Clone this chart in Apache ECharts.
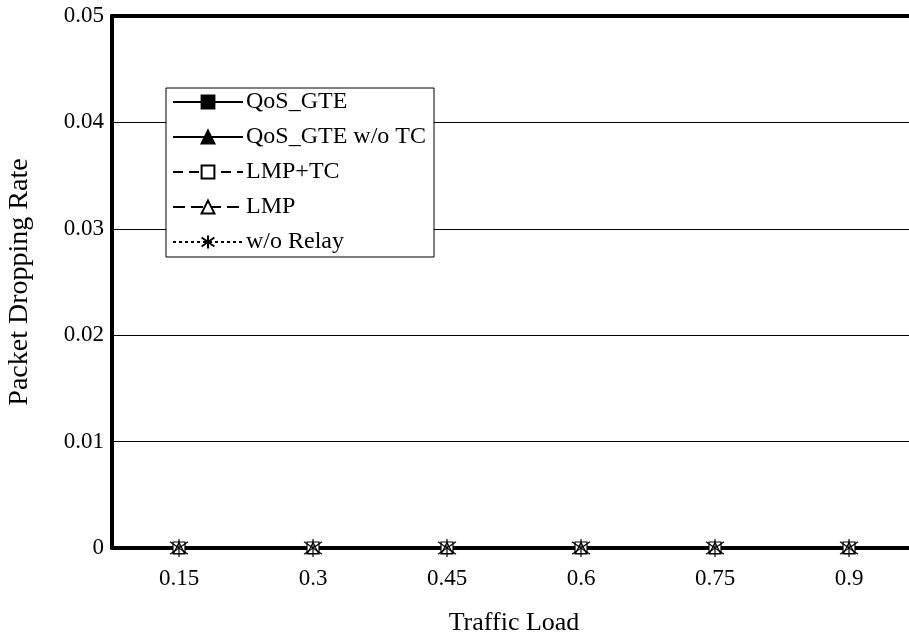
<!DOCTYPE html>
<html>
<head>
<meta charset="utf-8">
<script src="https://cdn.jsdelivr.net/npm/echarts@6/dist/echarts.min.js"></script>
<style>html,body{margin:0;padding:0;background:#fff;}#c{width:909px;height:636px;}</style>
</head>
<body>
<div id="c"></div>
<script>
var categories = ['0.15', '0.3', '0.45', '0.6', '0.75', '0.9'];
var seriesNames = ['QoS_GTE', 'QoS_GTE w/o TC', 'LMP+TC', 'LMP', 'w/o Relay'];
var qosGte = [0, 0, 0, 0, 0, 0];
var qosGteNoTc = [0, 0, 0, 0, 0, 0];
var lmpTc = [0, 0, 0, 0, 0, 0];
var lmp = [0, 0, 0, 0, 0, 0];
var noRelay = [0, 0, 0, 0, 0, 0];
var yTicks = [0, 0.01, 0.02, 0.03, 0.04, 0.05];
var xTitle = 'Traffic Load';
var yTitle = 'Packet Dropping Rate';

var FONT = 'Liberation Serif';
var asterisk = 'path://M0,-10L0,10M-9,-7L9,7M-9,7L9,-7';

function mk(name, data, symbol, fill, lineType, lineWidth, size) {
  return {
    name: name, type: 'line', data: data,
    symbol: symbol, symbolSize: size,
    lineStyle: {color: '#000', width: lineWidth, type: lineType},
    itemStyle: {color: fill, borderColor: '#000', borderWidth: 1.2},
    z: 3
  };
}

var chart = echarts.init(document.getElementById('c'), null, {renderer: 'canvas'});
chart.setOption({
  animation: false,
  backgroundColor: '#fff',
  textStyle: {fontFamily: FONT, color: '#000'},
  grid: {left: 112, top: 16, width: 804, bottom: 88, containLabel: false, outerBoundsMode: 'none'},
  legend: {
    orient: 'vertical', left: 166, top: 88,
    backgroundColor: '#fff', borderColor: '#000', borderWidth: 1,
    padding: [2, 8, 3, 6],
    itemWidth: 70, itemHeight: 16, itemGap: 11,
    data: seriesNames,
    textStyle: {fontFamily: FONT, fontSize: 24, color: '#000', lineHeight: 24, padding: [0, 0, 0, -2]}
  },
  xAxis: [{
    type: 'category', data: categories, boundaryGap: true,
    name: xTitle, nameLocation: 'middle', nameGap: 62,
    nameTextStyle: {fontFamily: FONT, fontSize: 26, color: '#000'},
    axisLine: {lineStyle: {color: '#000', width: 4}},
    axisTick: {inside: true, length: 6, lineStyle: {color: '#000', width: 1}},
    axisLabel: {fontFamily: FONT, fontSize: 23, color: '#000', margin: 19},
    splitLine: {show: false}
  }, {
    type: 'category', data: categories, position: 'top',
    axisLine: {lineStyle: {color: '#000', width: 4}},
    axisTick: {show: false}, axisLabel: {show: false}, splitLine: {show: false}
  }],
  yAxis: {
    type: 'value', min: yTicks[0], max: yTicks[yTicks.length - 1], interval: 0.01,
    name: yTitle, nameLocation: 'middle', nameGap: 78, nameRotate: 90,
    nameTextStyle: {fontFamily: FONT, fontSize: 28, color: '#000'},
    axisLine: {show: true, lineStyle: {color: '#000', width: 4}},
    axisTick: {show: false},
    axisLabel: {fontFamily: FONT, fontSize: 23, color: '#000', margin: 8,
      formatter: function (v) { return v === 0 ? '0' : String(+v.toFixed(2)); }},
    splitLine: {show: true, lineStyle: {color: '#000', width: 1}}
  },
  series: [
    mk(seriesNames[0], qosGte, 'rect', '#000', 'solid', 1, 10),
    mk(seriesNames[1], qosGteNoTc, 'triangle', '#000', 'solid', 1, 11),
    mk(seriesNames[2], lmpTc, 'rect', '#fff', [10, 6], 1.5, 12),
    mk(seriesNames[3], lmp, 'triangle', '#fff', [12, 6], 3, 11),
    mk(seriesNames[4], noRelay, asterisk, '#000', [3, 3], 2.5, 18)
  ]
});
</script>
</body>
</html>
